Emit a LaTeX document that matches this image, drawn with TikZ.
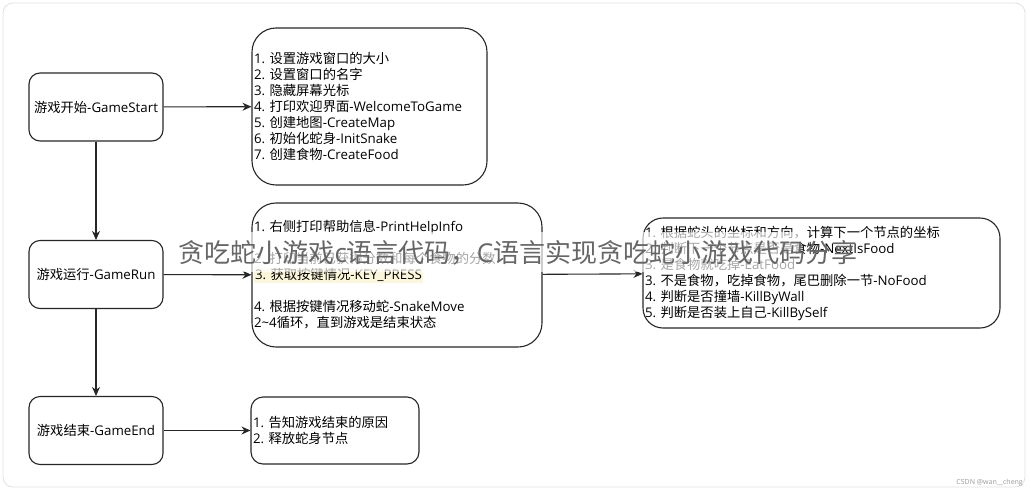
\documentclass[tikz,border=0pt]{standalone}
\usepackage{fontspec}
\setmainfont{Open Sans}
\newfontfamily\latfont{Open Sans}
\newfontfamily\cjkfont{Noto Sans CJK SC}
\usetikzlibrary{arrows.meta}

% Chinese characters switch to the CJK font
\newcount\cjkc
\newcommand\cjkrange[2]{\cjkc=#1 \loop\XeTeXcharclass\cjkc=7 \advance\cjkc by 1 \ifnum\cjkc<#2 \repeat}
\cjkrange{"3000}{"3040}
\cjkrange{"4E00}{"A000}
\cjkrange{"FF00}{"FFF0}
\XeTeXinterchartoks 0 7 = {\cjkfont}
\XeTeXinterchartoks 4095 7 = {\cjkfont}
\XeTeXinterchartoks 7 0 = {\latfont}
\XeTeXinterchartoks 7 4095 = {\latfont}
\XeTeXinterchartokenstate=1
\frenchspacing

\definecolor{hilite}{HTML}{FBF6DA}
\setlength{\fboxsep}{1pt}

\begin{document}
\begin{tikzpicture}[x=1pt,y=-1pt,
  every node/.style={font=\fontsize{13.3}{16}\selectfont},
  stage/.style={draw=black!85,line width=1.1pt,rounded corners=11pt,minimum width=134pt,minimum height=68pt,inner sep=0pt},
  detail/.style={draw=black!85,line width=1.1pt,align=left,inner xsep=2pt,inner ysep=0pt},
  flow/.style={draw=black!85,line width=1.1pt,-{Stealth[length=9pt,width=8pt]}}]
\useasboundingbox (0,0) rectangle (1030,490);
\draw[black!12,line width=0.8pt,rounded corners=10pt] (3,3) rectangle (1025,487);

\node[stage] (start) at (96,107) {游戏开始-GameStart};
\node[stage] (run) at (96,274.5) {游戏运行-GameRun};
\node[stage] (over) at (96,430.5) {游戏结束-GameEnd};

\node[detail,rounded corners=24pt,text width=231pt,minimum height=157pt] (init) at (369.5,106.5) {1. 设置游戏窗口的大小\\2. 设置窗口的名字\\3. 隐藏屏幕光标\\4. 打印欢迎界面-WelcomeToGame\\5. 创建地图-CreateMap\\6. 初始化蛇身-InitSnake\\7. 创建食物-CreateFood};
\node[detail,rounded corners=24pt,text width=286pt,minimum height=144pt] (loop) at (397,275) {1. 右侧打印帮助信息-PrintHelpInfo\\[16pt]2. 打印当前已获得分数和每个食物的分数\\\colorbox{hilite}{3. 获取按键情况-KEY\_PRESS}\\[16pt]4. 根据按键情况移动蛇-SnakeMove\\2\textasciitilde 4循环，直到游戏是结束状态};
\node[detail,rounded corners=20pt,text width=353pt,minimum height=110pt] (move) at (821.5,273) {1. 根据蛇头的坐标和方向，计算下一个节点的坐标\\2. 判断下一个节点是否是食物-NextIsFood\\3. 是食物就吃掉-EatFood\\3. 不是食物，吃掉食物，尾巴删除一节-NoFood\\4. 判断是否撞墙-KillByWall\\5. 判断是否装上自己-KillBySelf};
\node[detail,rounded corners=12pt,text width=164pt,minimum height=67pt] (free) at (335,430.5) {1. 告知游戏结束的原因\\2. 释放蛇身节点};

\draw[flow] (start) -- (init);
\draw[flow] (run) -- (loop);
\draw[flow] (loop) -- (move);
\draw[flow] (over) -- (free);
\draw[flow] (start) -- (run);
\draw[flow] (run) -- (over);

% watermark over the middle row
\fill[white,fill opacity=0.65] (165,232) rectangle (800,272);
\node[font=\fontsize{26}{30}\selectfont,text=black!60,inner sep=0pt] (mark) at (518,253) {贪吃蛇小游戏c语言代码，C语言实现贪吃蛇小游戏代码分享};
\node[font=\fontsize{7}{8}\selectfont,text=black!40,anchor=east,inner sep=0pt] (csdn) at (1023,483) {CSDN @wan\_\_cheng};
\end{tikzpicture}
\end{document}
